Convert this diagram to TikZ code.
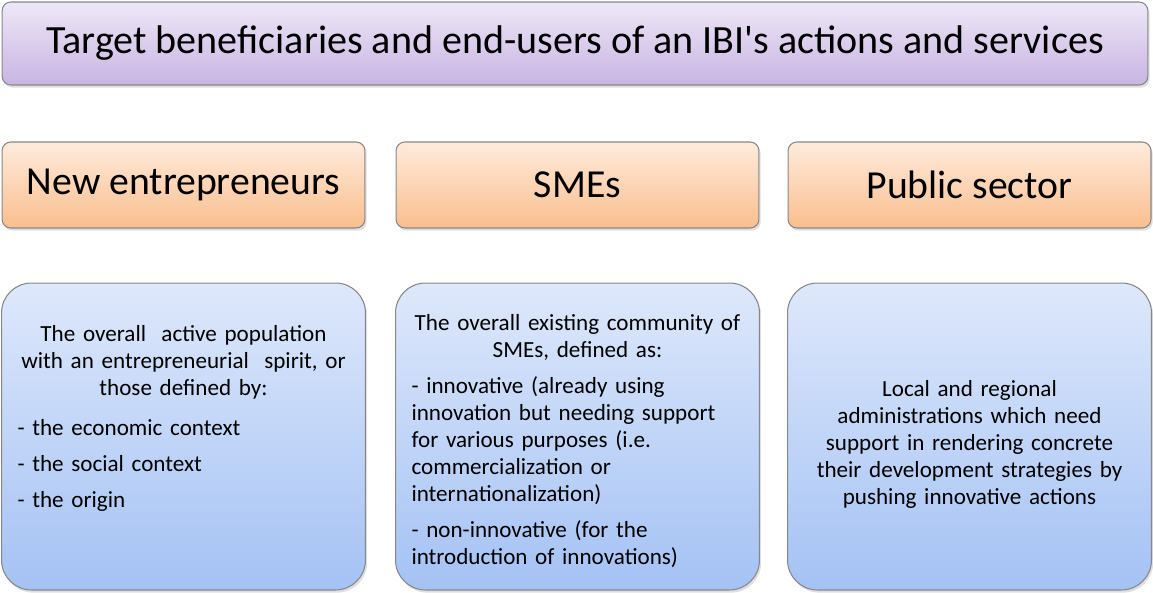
\documentclass[tikz,border=0pt]{standalone}
\usepackage{fontspec}
\setmainfont{Carlito}
\usepackage{tikz}
\usetikzlibrary{positioning,shadows}

\definecolor{purpletop}{RGB}{238,232,247}
\definecolor{purplebot}{RGB}{200,180,226}
\definecolor{orangetop}{RGB}{254,235,220}
\definecolor{orangebot}{RGB}{250,190,142}
\definecolor{bluetop}{RGB}{222,232,251}
\definecolor{bluebot}{RGB}{164,194,244}
\definecolor{edgegray}{RGB}{135,135,135}

\begin{document}
\begin{tikzpicture}[x=0.02cm, y=-0.02cm,
    card/.style={draw=edgegray, line width=0.6pt, drop shadow={opacity=0.25, shadow xshift=1pt, shadow yshift=-1.5pt}},
    titlebox/.style={card, rounded corners=5pt, top color=purpletop, bottom color=purplebot, minimum width=22.92cm, minimum height=1.66cm, font=\fontsize{22.8}{27}\selectfont},
    groupbox/.style={card, rounded corners=5pt, top color=orangetop, bottom color=orangebot, minimum width=7.26cm, minimum height=1.72cm, font=\fontsize{22.6}{27}\selectfont},
    detailbox/.style={card, rounded corners=17pt, top color=bluetop, bottom color=bluebot, minimum width=7.28cm, minimum height=6.14cm},
    detailtext/.style={inner sep=0pt, text width=6.64cm, font=\fontsize{13.15}{15.3}\selectfont, execute at begin node=\setlength{\parskip}{5.2pt}}]

    \useasboundingbox (0,0) rectangle (1153,592);

    % Draw the heading
    \node[titlebox] (target) at (575,43.5) {Target beneficiaries and end-users of an IBI\textquotesingle s actions and services};

    % Draw the three groups and their boxes below
    \foreach \n/\x/\t in {new/183.5/New entrepreneurs, sme/577.5/SMEs, pub/969.5/Public sector} {
      \node[groupbox] (\n) at (\x,185) {\t};
      \node[detailbox] (box\n) at (\x,436.5) {};
    }

    % Fill in the descriptions
    \node[detailtext, below=0.86cm of boxnew.north] (newtext) {%
      {\centering The overall\ \ active population\\ with an entrepreneurial\ \ spirit, or\\ those defined by:\par}
      \vspace{2pt}
      - the economic context\par
      - the social context\par
      - the origin};
    \node[detailtext, below=0.64cm of boxsme.north] (smetext) {%
      {\centering The overall existing community of\\ SMEs, defined as:\par}
      - innovative (already using\\ innovation but needing support\\ for various purposes (i.e.\\ commercialization or\\ internationalization)\par
      - non-innovative (for the\\ introduction of innovations)};
    \node[detailtext, align=center, below=1.96cm of boxpub.north] (pubtext) {%
      Local and regional\\ administrations which need\\ support in rendering concrete\\ their development strategies by\\ pushing innovative actions};
\end{tikzpicture}
\end{document}
